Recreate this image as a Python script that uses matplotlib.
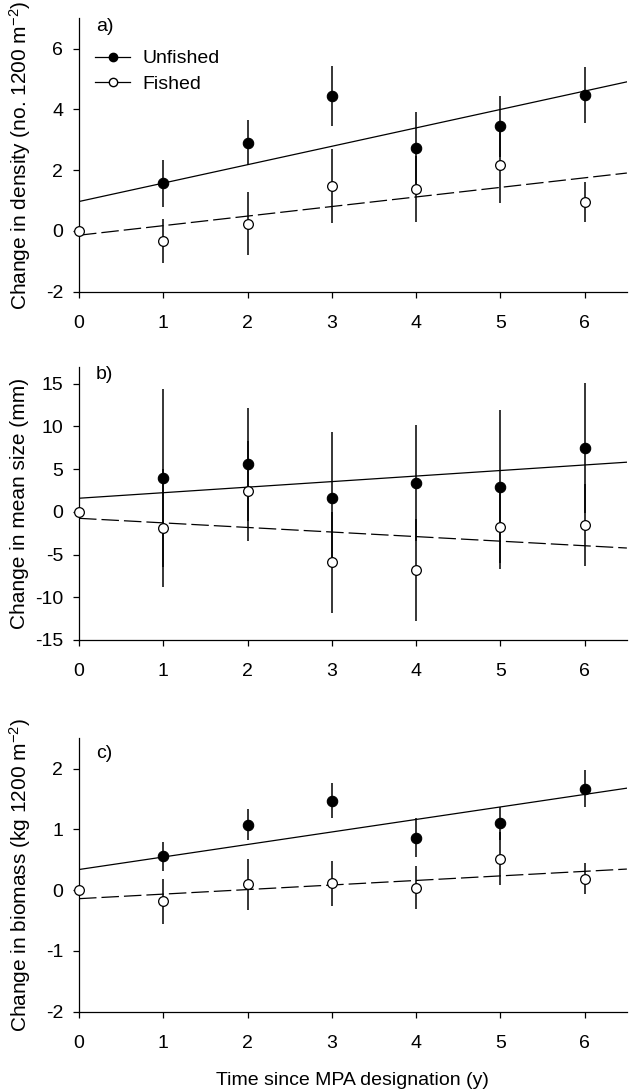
import numpy as np
import matplotlib
matplotlib.use('Agg')
import matplotlib.pyplot as plt
from matplotlib.lines import Line2D

plt.rcParams['font.family'] = ['Liberation Sans', 'DejaVu Sans']
plt.rcParams['mathtext.default'] = 'regular'
plt.rcParams['axes.unicode_minus'] = False

#--dados--#
years = [0, 1, 2, 3, 4, 5, 6]
years_unf = [1, 2, 3, 4, 5, 6]

# a) densidade
dens_unf = [1.57, 2.90, 4.44, 2.74, 3.45, 4.47]
dens_unf_err = [0.78, 0.74, 0.98, 1.19, 1.00, 0.92]
dens_fis = [0.0, -0.33, 0.24, 1.49, 1.38, 2.18, 0.96]
dens_fis_err = [0.0, 0.74, 1.04, 1.22, 1.08, 1.26, 0.66]
dens_fit_unf = (0.97, 0.606)   # intercepto, inclinação
dens_fit_fis = (-0.14, 0.315)

# b) tamanho médio
size_unf = [3.93, 5.54, 1.63, 3.38, 2.92, 7.49]
size_unf_err = [10.4, 6.64, 7.74, 6.77, 8.95, 7.6]
size_fis = [0.0, -1.86, 2.45, -5.92, -6.78, -1.78, -1.54]
size_fis_err = [0.0, 6.9, 5.83, 5.95, 5.95, 4.93, 4.77]
size_fit_unf = (1.59, 0.649)
size_fit_fis = (-0.76, -0.535)

# c) biomassa
bio_unf = [0.56, 1.08, 1.47, 0.86, 1.10, 1.67]
bio_unf_err = [0.24, 0.25, 0.29, 0.32, 0.27, 0.30]
bio_fis = [0.0, -0.18, 0.10, 0.11, 0.04, 0.52, 0.19]
bio_fis_err = [0.0, 0.37, 0.42, 0.37, 0.35, 0.44, 0.25]
bio_fit_unf = (0.34, 0.206)
bio_fit_fis = (-0.14, 0.075)

ylabels = ['Change in density (no. 1200 m$^{-2}$)',
           'Change in mean size (mm)',
           'Change in biomass (kg 1200 m$^{-2}$)']
letters = ['a)', 'b)', 'c)']
ylims = [(-2, 7), (-15, 17), (-2, 2.5)]
yticks = [[-2, 0, 2, 4, 6], [-15, -10, -5, 0, 5, 10, 15], [-2, -1, 0, 1, 2]]

panels = [
    (dens_unf, dens_unf_err, dens_fis, dens_fis_err, dens_fit_unf, dens_fit_fis),
    (size_unf, size_unf_err, size_fis, size_fis_err, size_fit_unf, size_fit_fis),
    (bio_unf, bio_unf_err, bio_fis, bio_fis_err, bio_fit_unf, bio_fit_fis),
]

#posições dos eixos (fração da figura)
bottoms = [0.7326, 0.4134, 0.0727]
letter_y = [0.97, 0.97, 0.946]
xfit = np.array([0, 6.5])

fig = plt.figure(figsize=(6.29, 10.91), dpi=100)

for i, (unf, unf_err, fis, fis_err, fit_u, fit_f) in enumerate(panels):
    ax = fig.add_axes([0.1256, bottoms[i], 0.871, 0.2506])

    #retas de regressão
    ax.plot(xfit, fit_u[0] + fit_u[1] * xfit, color='black', lw=0.9, zorder=2)
    ax.plot(xfit, fit_f[0] + fit_f[1] * xfit, color='black', lw=0.9,
            dashes=(14, 4), zorder=2)

    #barras de erro
    ax.errorbar(years_unf, unf, yerr=unf_err, fmt='none', ecolor='black',
                elinewidth=1.1, capsize=0, zorder=3)
    ax.errorbar(years, fis, yerr=fis_err, fmt='none', ecolor='black',
                elinewidth=1.1, capsize=0, zorder=3)

    #pontos
    ax.plot(years_unf, unf, 'o', color='black', ms=7.5, mec='black', mew=0.8,
            zorder=5, clip_on=False)
    ax.plot(years, fis, 'o', mfc='white', mec='black', ms=7, mew=0.9,
            zorder=5, clip_on=False)

    ax.set_xlim(0, 6.5)
    ax.set_ylim(*ylims[i])
    ax.set_xticks(years)
    ax.set_yticks(yticks[i])
    ax.spines['top'].set_visible(False)
    ax.spines['right'].set_visible(False)
    ax.spines['left'].set_linewidth(0.9)
    ax.spines['bottom'].set_linewidth(0.9)
    ax.tick_params(axis='both', direction='out', length=4.5, width=0.9,
                   labelsize=14)
    ax.tick_params(axis='y', pad=7)
    ax.tick_params(axis='x', pad=12)

    ax.set_ylabel(ylabels[i], fontsize=15, va='center')
    ax.yaxis.set_label_coords(-0.108, 0.5)
    ax.text(0.031, letter_y[i], letters[i], transform=ax.transAxes,
            fontsize=14, ha='left', va='center')

    if i == 0:
        handles = [Line2D([], [], color='black', lw=0.9, marker='o', ms=6,
                          mfc='black', mec='black'),
                   Line2D([], [], color='black', lw=0.9, marker='o', ms=6,
                          mfc='white', mec='black')]
        ax.legend(handles, ['Unfished', 'Fished'], loc='upper left',
                  bbox_to_anchor=(0.03, 0.885), frameon=False, fontsize=14,
                  handlelength=1.8, handletextpad=0.6, labelspacing=0.4,
                  borderpad=0, borderaxespad=0)
    if i == 2:
        ax.set_xlabel('Time since MPA designation (y)', fontsize=14, labelpad=15)

fig.savefig('out.png', dpi=100)
